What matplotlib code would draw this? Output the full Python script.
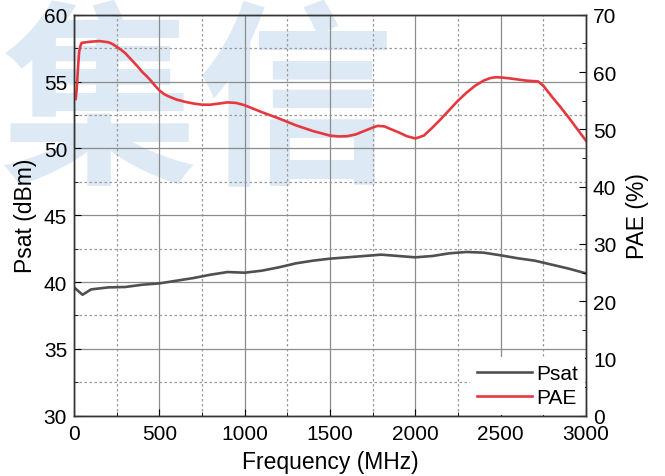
import matplotlib.pyplot as plt
from matplotlib.ticker import MultipleLocator

plt.rcParams['font.family'] = ['Liberation Sans', 'DejaVu Sans']

# saturated output power (dBm) vs frequency (MHz)
freq_psat = [5, 50, 100, 200, 300, 400, 500, 600, 700, 800, 900, 1000, 1100, 1200,
             1300, 1400, 1500, 1600, 1700, 1800, 1900, 2000, 2100, 2200, 2300,
             2400, 2500, 2600, 2700, 2800, 2900, 3000]
psat = [39.55, 39.05, 39.45, 39.6, 39.63, 39.8, 39.9, 40.1, 40.3, 40.55, 40.75, 40.7,
        40.85, 41.1, 41.4, 41.6, 41.75, 41.85, 41.95, 42.05, 41.95, 41.85, 41.95,
        42.15, 42.25, 42.2, 42.0, 41.78, 41.6, 41.3, 41.0, 40.65]

# power added efficiency (%) vs frequency (MHz)
freq_pae = [10, 15, 20, 25, 30, 38, 45, 100, 150, 200, 225, 250, 275, 300, 325, 350,
            375, 400, 425, 450, 475, 500, 525, 550, 575, 600, 650, 700, 750, 800,
            850, 900, 950, 1000, 1050, 1100, 1200, 1300, 1400, 1500, 1550, 1600,
            1650, 1700, 1750, 1780, 1820, 1850, 1900, 1950, 2000, 2050, 2100, 2150,
            2200, 2250, 2300, 2350, 2400, 2440, 2475, 2520, 2550, 2600, 2650, 2700,
            2720, 2750, 2800, 2850, 2900, 2950, 3000]
pae = [55.3, 56.8, 59.0, 61.5, 63.5, 64.6, 65.1, 65.3, 65.4, 65.2, 64.9, 64.4, 63.9,
       63.3, 62.5, 61.7, 60.9, 60.0, 59.3, 58.5, 57.6, 56.8, 56.2, 55.8, 55.5, 55.2,
       54.8, 54.5, 54.3, 54.3, 54.5, 54.7, 54.6, 54.2, 53.6, 53.0, 51.9, 50.7, 49.7,
       48.9, 48.75, 48.8, 49.1, 49.7, 50.3, 50.6, 50.5, 50.1, 49.5, 48.8, 48.4, 48.9,
       50.3, 51.8, 53.4, 55.0, 56.4, 57.6, 58.5, 58.95, 59.1, 59.0, 58.9, 58.7, 58.5,
       58.4, 58.35, 57.6, 55.7, 53.9, 52.0, 50.0, 48.0]

fig = plt.figure(figsize=(6.65, 4.77), dpi=100)
# pale watermark behind the plot
fig.text(0.0, 0.648, '集信', fontsize=142, fontweight='bold', color='#dde9f4',
         family=['Noto Sans CJK SC'], ha='left', va='baseline', zorder=-1)

ax = fig.add_axes([0.1113, 0.1264, 0.7699, 0.8406])
ax.patch.set_alpha(0)
ax2 = ax.twinx()

l1, = ax.plot(freq_psat, psat, color='#505050', lw=1.9, label='Psat')
l2, = ax2.plot(freq_pae, pae, color='#e5383f', lw=1.9, label='PAE')

ax.set_xlim(0, 3000)
ax.set_ylim(30, 60)
ax2.set_ylim(0, 70)
ax.xaxis.set_major_locator(MultipleLocator(500))
ax.xaxis.set_minor_locator(MultipleLocator(250))
ax.yaxis.set_major_locator(MultipleLocator(5))
ax.yaxis.set_minor_locator(MultipleLocator(2.5))
ax2.yaxis.set_major_locator(MultipleLocator(10))
ax2.yaxis.set_minor_locator(MultipleLocator(5))

ax.grid(which='major', color='#8c8c8c', lw=0.9, ls='-')
ax.grid(which='minor', color='#9a9a9a', lw=0.9, ls=(0, (2, 2)))

for a in (ax, ax2):
    a.tick_params(which='both', direction='in', labelsize=15)
    a.tick_params(which='major', length=5)
    a.tick_params(which='minor', length=3)
    for s in a.spines.values():
        s.set_color('#333333')
        s.set_linewidth(1.0)
ax.tick_params(axis='x', pad=6)
ax.tick_params(axis='y', pad=5)
ax2.tick_params(axis='y', pad=5)

ax.set_xlabel('Frequency (MHz)', fontsize=16.5, labelpad=5)
ax.set_ylabel('Psat (dBm)', fontsize=16.5, labelpad=5)
ax2.set_ylabel('PAE (%)', fontsize=16.5, labelpad=7)

leg = ax2.legend(handles=[l1, l2], loc='lower right', fontsize=15, frameon=True,
                 fancybox=False, framealpha=1, edgecolor='none', facecolor='white',
                 borderaxespad=0.05, handlelength=2.6, handletextpad=0.2,
                 labelspacing=0.25, borderpad=0.35)

fig.savefig('out.png', dpi=100)
